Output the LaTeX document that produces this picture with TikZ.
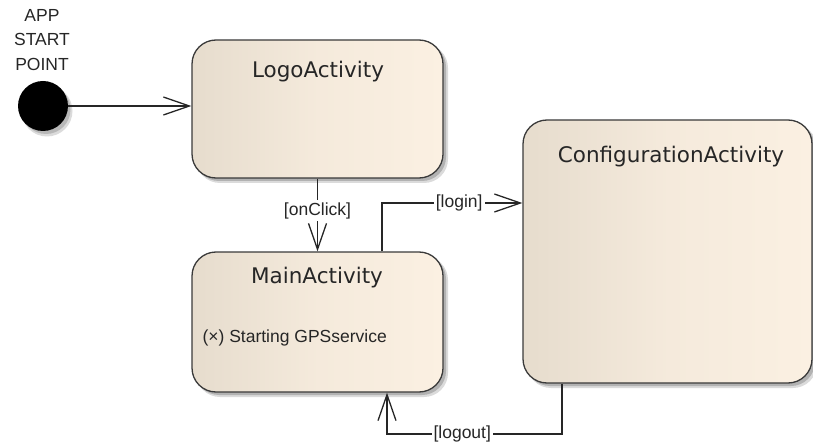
\documentclass[tikz,border=0pt]{standalone}
\usepackage{fontspec}
\setmainfont{Liberation Sans}
\newfontfamily\titlefont{DejaVu Sans}
\usetikzlibrary{arrows.meta}

\definecolor{stateleft}{HTML}{E6DCCD}
\definecolor{stateright}{HTML}{FBF0E2}
\definecolor{stateedge}{HTML}{3A3A3A}

\tikzset{
  state/.style={rectangle, rounded corners=24pt, draw=stateedge, line width=1.3pt,
    left color=stateleft, right color=stateright, middle color=stateright!70!stateleft},
  shadowouter/.style={rectangle, rounded corners=24pt, fill=black!14, draw=none},
  shadowinner/.style={rectangle, rounded corners=24pt, fill=black!30, draw=none},
  title/.style={font=\titlefont\fontsize{21.5}{24}\selectfont, text=black!85},
  guard/.style={font=\fontsize{17.5}{20}\selectfont, fill=white, inner sep=2pt, text=black!85},
  flow/.style={line width=1.3pt, draw=black!85, -{Straight Barb[length=26pt,width=18pt,line width=1.3pt]}},
}

\begin{document}
\begin{tikzpicture}[x=1pt,y=-1pt]
  \useasboundingbox (0,0) rectangle (813,446);

  % soft drop shadows
  \fill[black!14] (47,111) circle (25.5);
  \fill[black!28] (46,109.5) circle (24.5);
  \path[shadowouter] (196,44) rectangle (448,183);
  \path[shadowinner] (195,43) rectangle (446,181);
  \path[shadowouter] (196,256) rectangle (448,397);
  \path[shadowinner] (195,255) rectangle (446,395);
  \path[shadowouter] (527,124) rectangle (817,388);
  \path[shadowinner] (526,123) rectangle (815,386);

  % initial pseudo-state
  \node[circle, fill=black, minimum size=50pt, inner sep=0pt] (start) at (43,106) {};
  \node[font=\fontsize{17.5}{24.5}\selectfont, align=center, text=black!85] (startlbl) at (42,40)
    {APP\\START\\POINT};

  % states
  \node[state, minimum width=251pt, minimum height=138pt, inner sep=0pt] (logo) at (317.5,109) {};
  \node[title] (logot) at (318,72) {LogoActivity};

  \node[state, minimum width=251pt, minimum height=140pt, inner sep=0pt] (main) at (317.5,322) {};
  \node[title] (maint) at (317,278) {MainActivity};
  \node[font=\fontsize{17.5}{20}\selectfont, anchor=west, text=black!85] (gps) at (199,338)
    {(\char"00D7) Starting GPSservice};

  \node[state, minimum width=289pt, minimum height=263pt, inner sep=0pt] (config) at (667.5,251.5) {};
  \node[title] (configt) at (671,157) {ConfigurationActivity};

  % transitions
  \coordinate (loginA) at (382,203);
  \coordinate (logoutA) at (562,434);
  \coordinate (logoutB) at (387,434);

  \draw[flow] (start.east) -- (logo.west |- start.east);
  \draw[flow] (logo.south) -- node[guard, pos=0.44] {[onClick]} (main.north);
  \draw[flow] (main.north -| loginA) -- (loginA) -- node[guard, pos=0.55] {[login]} (config.west |- loginA);
  \draw[flow] (config.south -| logoutA) -- (logoutA) -- node[guard, pos=0.57] {[logout]} (logoutB) -- (main.south -| logoutB);
\end{tikzpicture}
\end{document}
